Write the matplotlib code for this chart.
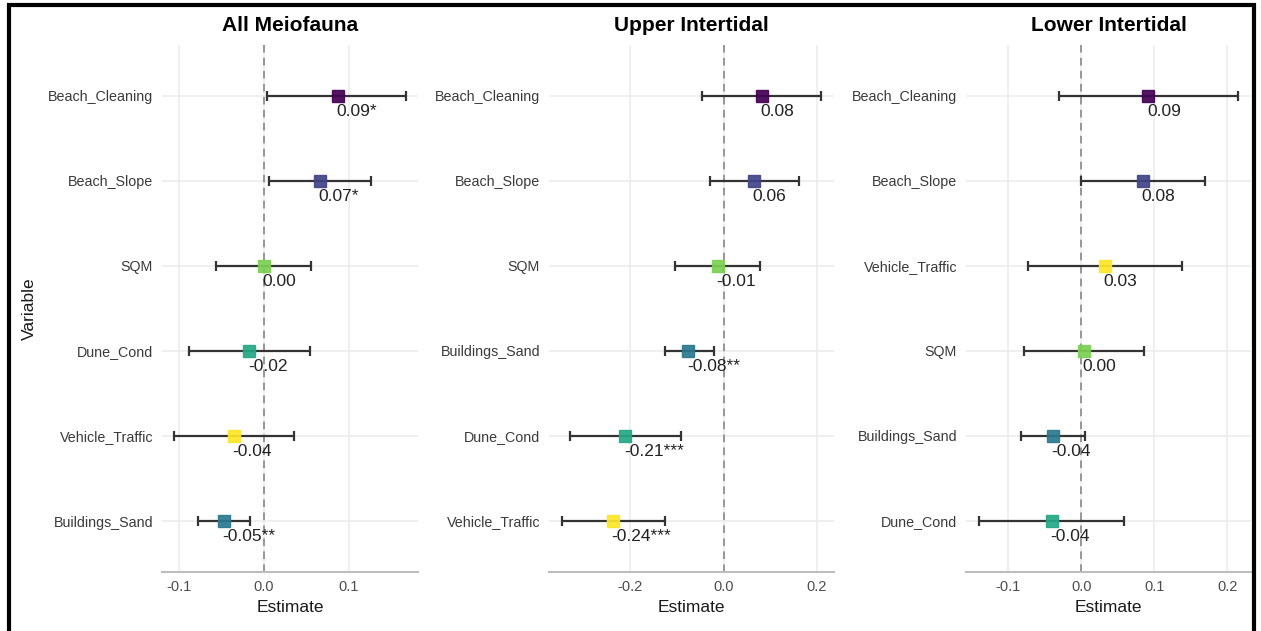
import matplotlib
matplotlib.use("Agg")
import matplotlib.pyplot as plt
from matplotlib.ticker import MultipleLocator, FormatStrFormatter
from matplotlib.patches import Rectangle

plt.rcParams["font.family"] = ["Liberation Sans", "DejaVu Sans"]
plt.rcParams["axes.unicode_minus"] = False

# data, listed top to bottom as drawn
titles = ["All Meiofauna", "Upper Intertidal", "Lower Intertidal"]

vars_all = ["Beach_Cleaning", "Beach_Slope", "SQM", "Dune_Cond", "Vehicle_Traffic", "Buildings_Sand"]
est_all = [0.087, 0.066, 0.000, -0.017, -0.035, -0.047]
low_all = [0.004, 0.006, -0.056, -0.088, -0.106, -0.077]
high_all = [0.168, 0.126, 0.056, 0.055, 0.036, -0.016]
lab_all = ["0.09*", "0.07*", "0.00", "-0.02", "-0.04", "-0.05**"]

vars_up = ["Beach_Cleaning", "Beach_Slope", "SQM", "Buildings_Sand", "Dune_Cond", "Vehicle_Traffic"]
est_up = [0.082, 0.065, -0.012, -0.075, -0.210, -0.237]
low_up = [-0.046, -0.030, -0.103, -0.126, -0.329, -0.346]
high_up = [0.209, 0.161, 0.078, -0.020, -0.090, -0.126]
lab_up = ["0.08", "0.06", "-0.01", "-0.08**", "-0.21***", "-0.24***"]

vars_low = ["Beach_Cleaning", "Beach_Slope", "Vehicle_Traffic", "SQM", "Buildings_Sand", "Dune_Cond"]
est_low = [0.092, 0.085, 0.032, 0.004, -0.039, -0.040]
low_low = [-0.031, 0.000, -0.073, -0.078, -0.083, -0.140]
high_low = [0.215, 0.169, 0.138, 0.086, 0.005, 0.059]
lab_low = ["0.09", "0.08", "0.03", "0.00", "-0.04", "-0.04"]

tick_steps = [0.1, 0.2, 0.1]

# viridis colours, one per variable (alphabetical order)
colors = {
    "Beach_Cleaning": "#440154",
    "Beach_Slope": "#414487",
    "Buildings_Sand": "#2A788E",
    "Dune_Cond": "#22A884",
    "SQM": "#7AD151",
    "Vehicle_Traffic": "#FDE725",
}

panels = [
    (vars_all, est_all, low_all, high_all, lab_all),
    (vars_up, est_up, low_up, high_up, lab_up),
    (vars_low, est_low, low_low, high_low, lab_low),
]

fig = plt.figure(figsize=(12.61, 6.31), dpi=100)
lefts = [0.1285, 0.4354, 0.7661]
widths = [0.2030, 0.2260, 0.2260]

for i, (names, est, low, high, labs) in enumerate(panels):
    ax = fig.add_axes([lefts[i], 0.0935, widths[i], 0.8352])
    ypos = list(range(len(names)))
    ax.set_axisbelow(True)
    ax.grid(True, color="#EBEBEB", linewidth=1.1)
    ax.axvline(0, color="#7F7F7F", linestyle=(0, (5, 3.5)), linewidth=1.1, zorder=1)
    for k in ypos:
        ax.errorbar([est[k]], [k], xerr=[[est[k] - low[k]], [high[k] - est[k]]],
                    fmt="none", ecolor="#333333", elinewidth=1.6, capsize=3.5,
                    capthick=1.6, zorder=2)
        ax.plot(est[k], k, marker="s", markersize=8, color=colors[names[k]],
                alpha=0.92, linestyle="none", zorder=3)
        ax.annotate(labs[k], (est[k], k), xytext=(-1, -11), textcoords="offset points",
                    ha="left", va="center", fontsize=12.5, color="#222222", zorder=4)
    ax.set_yticks(ypos)
    ax.set_yticklabels(names)
    ax.set_ylim(len(names) - 0.4, -0.6)
    ax.margins(x=0.05)
    ax.xaxis.set_major_locator(MultipleLocator(tick_steps[i]))
    ax.xaxis.set_major_formatter(FormatStrFormatter("%.1f"))
    ax.tick_params(length=0, colors="#4D4D4D")
    ax.tick_params(axis="y", labelsize=10.3, pad=6.5, labelcolor="#3A3A3A")
    ax.tick_params(axis="x", labelsize=10.5, pad=6)
    for s in ["top", "right", "left"]:
        ax.spines[s].set_visible(False)
    ax.spines["bottom"].set_color("#BDBDBD")
    ax.spines["bottom"].set_linewidth(1.5)
    ax.set_title(titles[i], fontsize=15, fontweight="bold", pad=10)
    ax.set_xlabel("Estimate", fontsize=12.5, color="#1A1A1A", labelpad=4)
    if i == 0:
        ax.set_ylabel("Variable", fontsize=12.5, color="#1A1A1A", labelpad=8)

# black frame around the figure
fig.patches.append(Rectangle((0.0071, -0.02), 0.9873, 1.012, transform=fig.transFigure,
                             fill=False, edgecolor="black", linewidth=3, zorder=10))

plt.savefig("out.png", dpi=100)
